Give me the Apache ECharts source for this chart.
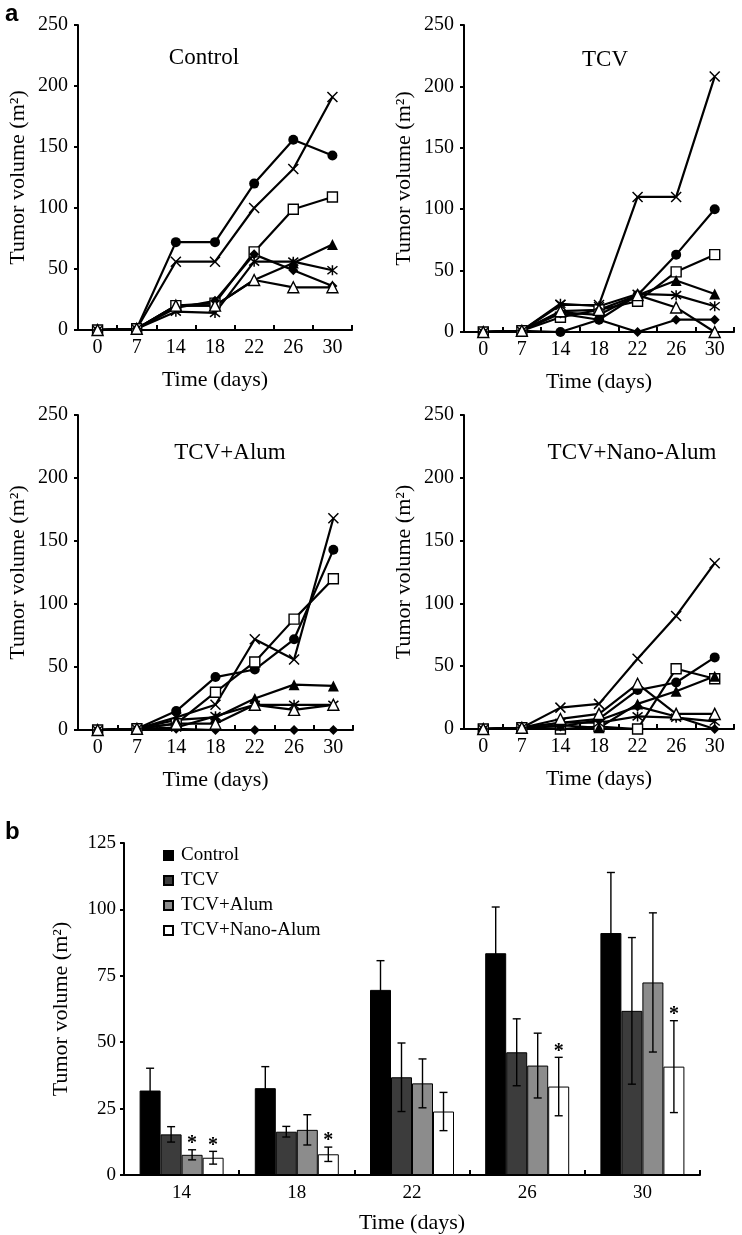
<!DOCTYPE html>
<html>
<head>
<meta charset="utf-8">
<script src="https://cdn.jsdelivr.net/npm/echarts@6/dist/echarts.min.js"></script>
<style>
html,body{margin:0;padding:0;background:#fff;}
#chart{width:742px;height:1235px;}
</style>
</head>
<body>
<div id="chart"></div>
<script>
// ---------- DATA ----------
const days = ['0', '7', '14', '18', '22', '26', '30'];

// Control panel (one array per mouse / marker)
const ctrlCircle  = [0, 1, 72, 72, 120, 156, 143];
const ctrlCross   = [0, 1, 56, 56, 100, 132, 191];
const ctrlSquare  = [0, 1, 20, 22, 64, 99, 109];
const ctrlTri     = [0, 1, 20, 20, 41, 55, 70];
const ctrlStar    = [0, 1, 15, 14, 56, 56, 49];
const ctrlDiamond = [0, 1, 18, 24, 62, 49, 36];
const ctrlOTri    = [0, 1, 20, 20, 41, 35, 35];

// TCV panel
const tcvCircle  = [0, 1, 0, 10, 30, 63, 100];
const tcvCross   = [0, 1, 22, 22, 110, 110, 208];
const tcvSquare  = [0, 1, 12, 18, 25, 49, 63];
const tcvTri     = [0, 1, 16, 14, 30, 42, 31];
const tcvStar    = [0, 1, 23, 21, 31, 30, 21];
const tcvDiamond = [0, 1, 15, 10, 0, 10, 10];
const tcvOTri    = [0, 1, 17, 18, 30, 20, 0];

// TCV+Alum panel
const alumCircle  = [0, 1, 15, 42, 48, 72, 143];
const alumCross   = [0, 1, 10, 20, 72, 56, 168];
const alumSquare  = [0, 1, 5, 30, 54, 88, 120];
const alumTri     = [0, 1, 8, 10, 25, 36, 35];
const alumStar    = [0, 1, 2, 11, 20, 20, 20];
const alumDiamond = [0, 1, 1, 0, 0, 0, 0];
const alumOTri    = [0, 1, 5, 5, 20, 16, 20];

// TCV+Nano-Alum panel
const nanoCircle  = [0, 1, 5, 8, 31, 37, 57];
const nanoCross   = [0, 1, 17, 20, 56, 90, 132];
const nanoSquare  = [0, 1, 0, 2, 0, 48, 40];
const nanoTri     = [0, 1, 3, 1, 20, 30, 42];
const nanoStar    = [0, 1, 5, 5, 10, 9, 6];
const nanoDiamond = [0, 1, 2, 7, 18, 10, 0];
const nanoOTri    = [0, 1, 8, 12, 36, 12, 12];

const panelTitles = ['Control', 'TCV', 'TCV+Alum', 'TCV+Nano-Alum'];
const lineTicks = [0, 50, 100, 150, 200, 250];

// Bar chart (b)
const barDays = ['14', '18', '22', '26', '30'];
const groupNames = ['Control', 'TCV', 'TCV+Alum', 'TCV+Nano-Alum'];
const ctrlMean = [31.8, 32.7, 69.7, 83.5, 91.1];
const ctrlErr  = [8.4, 8.1, 11.0, 17.4, 22.8];
const tcvMean  = [15.3, 16.3, 36.8, 46.2, 61.8];
const tcvErr   = [2.9, 2.0, 12.9, 12.6, 27.6];
const alumMean = [7.6, 17.0, 34.5, 41.2, 72.5];
const alumErr  = [1.9, 5.7, 9.2, 12.2, 26.2];
const nanoMean = [6.5, 7.8, 23.9, 33.3, 40.8];
const nanoErr  = [2.4, 2.7, 7.2, 11.0, 17.3];
const ctrlSig  = [0, 0, 0, 0, 0];
const tcvSig   = [0, 0, 0, 0, 0];
const alumSig  = [1, 0, 0, 0, 0];
const nanoSig  = [1, 1, 0, 1, 1];

// ---------- STYLE / LAYOUT ----------
const FONT = 'Liberation Serif';
const panelData = [
  [ctrlCircle, ctrlCross, ctrlSquare, ctrlTri, ctrlStar, ctrlDiamond, ctrlOTri],
  [tcvCircle, tcvCross, tcvSquare, tcvTri, tcvStar, tcvDiamond, tcvOTri],
  [alumCircle, alumCross, alumSquare, alumTri, alumStar, alumDiamond, alumOTri],
  [nanoCircle, nanoCross, nanoSquare, nanoTri, nanoStar, nanoDiamond, nanoOTri]
];
const panelGrids = [
  {left: 78, top: 25, width: 274, height: 305},
  {left: 464, top: 25, width: 270, height: 307},
  {left: 78, top: 415, width: 275, height: 315},
  {left: 464, top: 415, width: 270, height: 314}
];
const titlePos = [[204, 58], [605, 60], [230, 453], [632, 453]];
const markers = [
  {symbol: 'circle', size: 10, fill: '#000', bw: 0},
  {symbol: 'path://M0,0L10,10M10,0L0,10', size: 10, fill: '#000', bw: 1.5},
  {symbol: 'rect', size: 10, fill: '#fff', bw: 1.4},
  {symbol: 'triangle', size: 11, fill: '#000', bw: 0},
  {symbol: 'path://M0,1L10,9M10,1L0,9M5,0L5,10', size: 10, fill: '#000', bw: 1.5},
  {symbol: 'diamond', size: 10, fill: '#000', bw: 0},
  {symbol: 'triangle', size: 11, fill: '#fff', bw: 1.4}
];
const barColors = ['#000000', '#3c3c3c', '#8c8c8c', '#ffffff'];
const BAR_W = 21;

const axisLineStyle = {color: '#000', width: 2};
const labelStyle = {color: '#000', fontFamily: FONT, fontSize: 20};
const barLabelStyle = {color: '#000', fontFamily: FONT, fontSize: 19};
const nameStyle = {color: '#000', fontFamily: FONT, fontSize: 22};

const grids = [], xAxes = [], yAxes = [], series = [], graphics = [];

panelGrids.forEach((g, i) => {
  grids.push(Object.assign({containLabel: false}, g));
  xAxes.push({
    type: 'category', gridIndex: i, data: days, boundaryGap: true,
    axisLine: {lineStyle: axisLineStyle},
    axisTick: {show: true, inside: true, length: 5, lineStyle: {color: '#000', width: 2}},
    axisLabel: Object.assign({margin: 8, interval: 0}, labelStyle),
    splitLine: {show: false},
    name: 'Time (days)', nameLocation: 'middle', nameGap: 39, nameTextStyle: nameStyle
  });
  yAxes.push({
    type: 'value', gridIndex: i, min: lineTicks[0], max: lineTicks[lineTicks.length - 1], interval: 50,
    axisLine: {show: true, lineStyle: axisLineStyle},
    axisTick: {show: true, inside: false, length: 4, lineStyle: {color: '#000', width: 2}},
    axisLabel: Object.assign({margin: 10}, labelStyle),
    splitLine: {show: false},
    name: 'Tumor volume (m²)', nameLocation: 'middle', nameGap: 49, nameTextStyle: nameStyle
  });
  panelData[i].forEach((arr, k) => {
    const m = markers[k];
    series.push({
      type: 'line', name: 'p' + i + 's' + k, xAxisIndex: i, yAxisIndex: i, data: arr,
      symbol: m.symbol, symbolSize: m.size, showAllSymbol: true, silent: true,
      lineStyle: {color: '#000', width: 2.2},
      itemStyle: {color: m.fill, borderColor: '#000', borderWidth: m.bw, opacity: 1},
      z: 3
    });
  });
  graphics.push({
    type: 'text', x: titlePos[i][0], y: titlePos[i][1],
    style: {text: panelTitles[i], textAlign: 'center', textVerticalAlign: 'middle',
            font: '23px "' + FONT + '"', fill: '#000'}
  });
});

// Bar chart grid
grids.push({left: 124, top: 843, width: 576, height: 332});
xAxes.push({
  type: 'category', gridIndex: 4, data: barDays, boundaryGap: true,
  axisLine: {lineStyle: axisLineStyle},
  axisTick: {show: true, inside: true, length: 5, lineStyle: {color: '#000', width: 2}},
  axisLabel: Object.assign({margin: 9}, barLabelStyle),
  name: 'Time (days)', nameLocation: 'middle', nameGap: 37, nameTextStyle: nameStyle
});
yAxes.push({
  type: 'value', gridIndex: 4, min: 0, max: 125, interval: 25,
  axisLine: {show: true, lineStyle: axisLineStyle},
  axisTick: {show: true, length: 4, lineStyle: {color: '#000', width: 2}},
  axisLabel: Object.assign({margin: 8}, barLabelStyle),
  splitLine: {show: false},
  name: 'Tumor volume (m²)', nameLocation: 'middle', nameGap: 52, nameTextStyle: nameStyle
});

const means = [ctrlMean, tcvMean, alumMean, nanoMean];
const errs = [ctrlErr, tcvErr, alumErr, nanoErr];
const sigs = [ctrlSig, tcvSig, alumSig, nanoSig];

means.forEach((arr, g) => {
  series.push({
    type: 'bar', name: groupNames[g], xAxisIndex: 4, yAxisIndex: 4, data: arr,
    barWidth: BAR_W, barGap: '0%',
    itemStyle: {color: barColors[g], borderColor: '#000', borderWidth: 1},
    z: 2
  });
});

const errData = [];
means.forEach((arr, g) => {
  arr.forEach((v, i) => errData.push([i, v, errs[g][i], g, sigs[g][i]]));
});

series.push({
  type: 'custom', name: 'errorbars', xAxisIndex: 4, yAxisIndex: 4, data: errData, z: 5, silent: true,
  renderItem: function (params, api) {
    const cat = api.value(0), mean = api.value(1), err = api.value(2), g = api.value(3), sig = api.value(4);
    const c = api.coord([cat, mean]);
    const x = c[0] + (g - 1.5) * BAR_W;
    const top = api.coord([cat, mean + err])[1];
    const bot = api.coord([cat, mean - err])[1];
    const st = {stroke: '#000', lineWidth: 1.4};
    const cap = 4;
    const children = [
      {type: 'line', shape: {x1: x, y1: top, x2: x, y2: bot}, style: st},
      {type: 'line', shape: {x1: x - cap, y1: top, x2: x + cap, y2: top}, style: st},
      {type: 'line', shape: {x1: x - cap, y1: bot, x2: x + cap, y2: bot}, style: st}
    ];
    if (sig) {
      children.push({type: 'text', x: x, y: top + 4,
        style: {text: '*', textAlign: 'center', textVerticalAlign: 'bottom',
                font: 'bold 20px "' + FONT + '"', fill: '#000'}});
    }
    return {type: 'group', children: children};
  }
});

graphics.push({type: 'text', x: 5, y: 2,
  style: {text: 'a', font: 'bold 24px "Liberation Sans"', fill: '#000', textVerticalAlign: 'top'}});
graphics.push({type: 'text', x: 5, y: 820,
  style: {text: 'b', font: 'bold 24px "Liberation Sans"', fill: '#000', textVerticalAlign: 'top'}});

const option = {
  animation: false,
  backgroundColor: '#fff',
  grid: grids,
  xAxis: xAxes,
  yAxis: yAxes,
  legend: {
    data: groupNames, orient: 'vertical', left: 158, top: 841,
    itemWidth: 9, itemHeight: 9, itemGap: 6, icon: 'rect',
    textStyle: {color: '#000', fontFamily: FONT, fontSize: 19, padding: [0, 0, 0, 3]},
    selectedMode: false
  },
  graphic: graphics,
  series: series
};

const chart = echarts.init(document.getElementById('chart'), null, {renderer: 'canvas'});
chart.setOption(option);
</script>
</body>
</html>
